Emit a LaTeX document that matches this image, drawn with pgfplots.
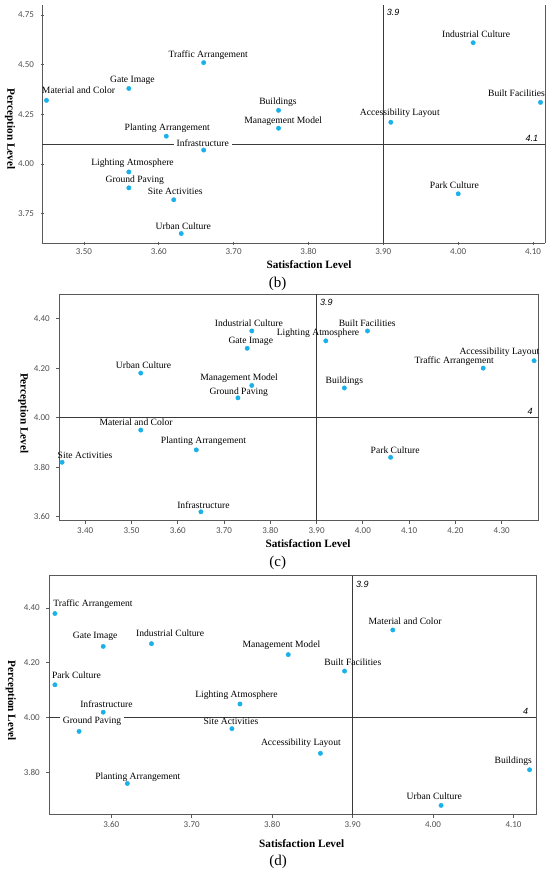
\documentclass[border=0pt]{standalone}
\usepackage{pgfplots}
\pgfplotsset{compat=1.18}
\usepackage{pgfplotstable}
\usetikzlibrary{calc}
\usepackage{fontspec}
\setmainfont{Liberation Serif}
\newfontfamily\tickfont{Carlito}
\newfontfamily\refsans{Liberation Sans}
\definecolor{pt}{HTML}{1AB0EA}
\definecolor{axgray}{HTML}{5A5A5A}
\definecolor{refgray}{HTML}{3A3A3A}
\definecolor{tickgray}{HTML}{505050}
\newcommand\lab{\fontsize{9.6bp}{11bp}\selectfont}
\newcommand\axlab{\fontsize{11.2bp}{13bp}\selectfont\bfseries}
\newcommand\caplab{\fontsize{15bp}{17bp}\selectfont}
\newcommand\reflab{\refsans\itshape\fontsize{9bp}{10bp}\selectfont}

\pgfplotstableread[col sep=comma]{
x,y,dx,dy,bg,label
3.45,4.32,32,10.4,0,Material and Color
3.56,4.38,3.5,9,0,Gate Image
3.66,4.51,4.6,8.7,0,Traffic Arrangement
3.61,4.14,1,8.6,0,Planting Arrangement
3.66,4.07,-1,6.7,1,Infrastructure
3.56,3.96,3.7,9.4,0,Lighting Atmosphere
3.56,3.88,6,9,0,Ground Paving
3.62,3.82,1.5,8.7,0,Site Activities
3.63,3.65,2,7.7,0,Urban Culture
3.76,4.27,-0.6,9,0,Buildings
3.76,4.18,4.7,8.4,0,Management Model
3.91,4.21,9,10.3,0,Accessibility Layout
4.02,4.61,3,8.7,0,Industrial Culture
4.11,4.31,-24,9.7,0,Built Facilities
4.00,3.85,-3.8,9,0,Park Culture
}\tabB

\pgfplotstableread[col sep=comma]{
x,y,dx,dy,bg,label
3.76,4.35,-3,8.3,0,Industrial Culture
3.75,4.28,3.6,8.3,0,Gate Image
3.52,4.18,2.8,7.7,0,Urban Culture
3.76,4.13,-12.7,8.3,0,Management Model
3.73,4.08,0.8,6.7,0,Ground Paving
3.52,3.95,-4.7,8.3,0,Material and Color
3.64,3.87,7.2,10,0,Planting Arrangement
3.35,3.82,23,7.3,0,Site Activities
3.65,3.62,2.5,7,0,Infrastructure
3.92,4.31,-7.8,8.3,0,Lighting Atmosphere
4.01,4.35,-0.3,8.3,0,Built Facilities
3.96,4.12,0,7.7,0,Buildings
4.26,4.20,-29,7.7,0,Traffic Arrangement
4.37,4.23,-34.7,9.7,0,Accessibility Layout
4.06,3.84,4.5,7,0,Park Culture
}\tabC

\pgfplotstableread[col sep=comma]{
x,y,dx,dy,bg,label
3.53,4.38,38,10,0,Traffic Arrangement
3.59,4.26,-8,11,0,Gate Image
3.65,4.27,18.7,10.3,0,Industrial Culture
3.53,4.12,21.5,9.3,0,Park Culture
3.59,4.02,3.2,8.4,0,Infrastructure
3.56,3.95,13,11.4,1,Ground Paving
3.76,4.05,-3.5,10.3,0,Lighting Atmosphere
3.75,3.96,-1,8,0,Site Activities
3.62,3.76,10.5,7.6,0,Planting Arrangement
3.82,4.23,-6.8,10.7,0,Management Model
3.89,4.17,8.3,9,0,Built Facilities
3.95,4.32,12.3,8.6,0,Material and Color
3.86,3.87,-19.5,11,0,Accessibility Layout
4.12,3.81,-16.3,9.3,0,Buildings
4.01,3.68,-6.8,9.6,0,Urban Culture
}\tabD

\pgfplotsset{
  base/.style={
    scale only axis, anchor=south west, clip=false,
    axis line style={axgray, line width=1bp},
    tick pos=left, tick align=outside,
    major tick length=3bp,
    tick style={axgray, line width=0.8bp},
    ticklabel style={font=\tickfont\fontsize{9bp}{10bp}\selectfont, text=tickgray},
    yticklabel style={xshift=-3bp},
    /pgf/number format/.cd, fixed, fixed zerofill, precision=2, assume math mode=true,
  },
  scat/.style={
    only marks, mark=*, mark size=2.2bp, color=pt,
    point meta=explicit symbolic,
    visualization depends on={\thisrow{dx}\as\dx},
    visualization depends on={\thisrow{dy}\as\dy},
    visualization depends on={\thisrow{bg}\as\bgop},
    nodes near coords,
    every node near coord/.style={anchor=center, xshift=\dx bp, yshift=\dy bp,
      font=\lab, text=black, fill=white, fill opacity=\bgop, text opacity=1,
      inner xsep=3bp, inner ysep=0.5bp,
      text height=0.68em, text depth=0pt},
  },
  ref/.style={refgray, line width=0.9bp, forget plot},
}

\begin{document}
\begin{tikzpicture}
\useasboundingbox (0,0) rectangle (550bp,873bp);

% ---------- (b) ----------
\begin{axis}[base, at={(42bp,629.7bp)}, width=503bp, height=238.3bp,
  xmin=3.444, xmax=4.116, ymin=3.601, ymax=4.80,
  xtick={3.5,3.6,3.7,3.8,3.9,4.0,4.1}, ytick={3.75,4.00,4.25,4.50,4.75},
  axis lines=left, axis line style={-}]
\addplot[ref] coordinates {(3.9,3.601) (3.9,4.80)};
\addplot[ref] coordinates {(3.444,4.1) (4.116,4.1)};
\draw[axgray, line width=1bp] (rel axis cs:1,0) -- (rel axis cs:1,1);
\addplot[scat] table[x=x,y=y,meta=label]{\tabB};
\node[anchor=north west, font=\reflab, inner sep=0pt] at ($(axis cs:3.9,4.80)+(3.4bp,-4bp)$) {3.9};
\node[anchor=south east, font=\reflab, inner sep=0pt] at ($(axis cs:4.116,4.1)+(-6.7bp,2.8bp)$) {4.1};
\end{axis}

% ---------- (c) ----------
\begin{axis}[base, at={(59.3bp,352bp)}, width=479.4bp, height=226.7bp,
  xmin=3.344, xmax=4.380, ymin=3.583, ymax=4.498,
  xtick={3.4,3.5,3.6,3.7,3.8,3.9,4.0,4.1,4.2,4.3}, ytick={3.6,3.8,4.0,4.2,4.4}]
\addplot[ref] coordinates {(3.9,3.583) (3.9,4.498)};
\addplot[ref] coordinates {(3.344,4.0) (4.380,4.0)};
\addplot[scat] table[x=x,y=y,meta=label]{\tabC};
\node[anchor=north west, font=\reflab, inner sep=0pt] at ($(axis cs:3.9,4.498)+(3.4bp,-4.5bp)$) {3.9};
\node[anchor=south east, font=\reflab, inner sep=0pt] at ($(axis cs:4.380,4.0)+(-6bp,2.7bp)$) {4};
\end{axis}

% ---------- (d) ----------
\begin{axis}[base, at={(49.3bp,58bp)}, width=486.7bp, height=239.3bp,
  xmin=3.523, xmax=4.128, ymin=3.645, ymax=4.518,
  xtick={3.6,3.7,3.8,3.9,4.0,4.1}, ytick={3.8,4.0,4.2,4.4}]
\addplot[ref] coordinates {(3.9,3.645) (3.9,4.518)};
\addplot[ref] coordinates {(3.523,4.0) (4.128,4.0)};
\addplot[scat] table[x=x,y=y,meta=label]{\tabD};
\node[anchor=north west, font=\reflab, inner sep=0pt] at ($(axis cs:3.9,4.518)+(3.4bp,-5bp)$) {3.9};
\node[anchor=south east, font=\reflab, inner sep=0pt] at ($(axis cs:4.128,4.0)+(-7.7bp,3bp)$) {4};
\end{axis}

% axis titles and captions
\node[font=\axlab, rotate=-90] at (10bp,744bp) {Perception Level};
\node[font=\axlab, rotate=-90] at (23.3bp,459.7bp) {Perception Level};
\node[font=\axlab, rotate=-90] at (10.8bp,172.3bp) {Perception Level};
\node[font=\axlab] at (309bp,608bp) {Satisfaction Level};
\node[font=\axlab] at (308bp,329bp) {Satisfaction Level};
\node[font=\axlab] at (301.7bp,29.7bp) {Satisfaction Level};
\node[font=\caplab] at (277.7bp,589bp) {(b)};
\node[font=\caplab] at (277.7bp,310bp) {(c)};
\node[font=\caplab] at (278bp,11.3bp) {(d)};
\end{tikzpicture}
\end{document}
